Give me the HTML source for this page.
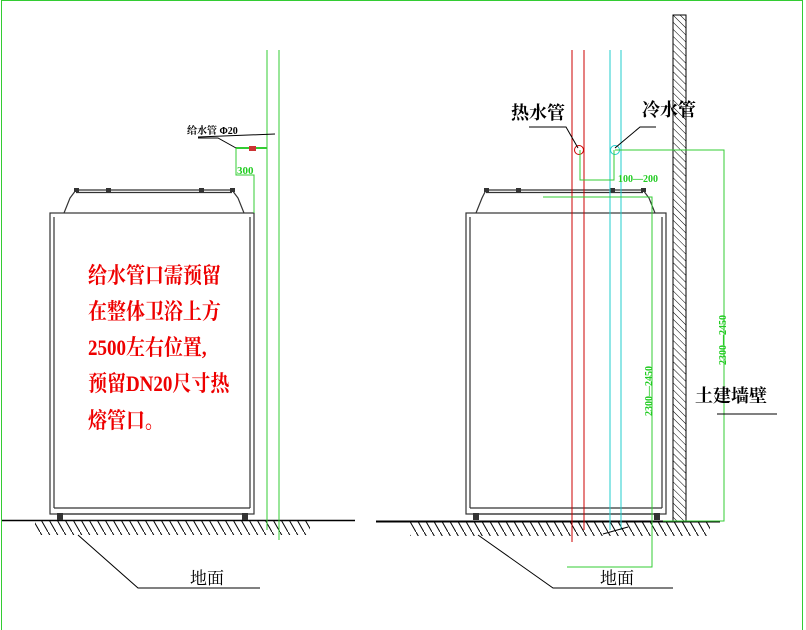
<!DOCTYPE html>
<html><head><meta charset="utf-8"><style>
html,body{margin:0;padding:0;background:#fff;}
svg{display:block;}
text{font-family:"Liberation Serif","Noto Serif CJK SC",serif;}
</style></head><body>
<svg width="806" height="630" viewBox="0 0 806 630" xmlns="http://www.w3.org/2000/svg">
<defs>
<pattern id="h" width="5" height="5" patternUnits="userSpaceOnUse" patternTransform="rotate(-45)">
<line x1="0" y1="0" x2="0" y2="5" stroke="#000" stroke-width="1"/></pattern>
<pattern id="g" width="8" height="14" patternUnits="userSpaceOnUse">
<line x1="0" y1="0" x2="8" y2="14" stroke="#000" stroke-width="1"/></pattern>
</defs>
<rect x="1.5" y="0.5" width="801" height="640" fill="none" stroke="#3c3" stroke-width="1"/>

<!-- LEFT -->
<line x1="2" y1="520.5" x2="355" y2="520.5" stroke="#000" stroke-width="1.5"/>
<rect x="35" y="521" width="275" height="14" fill="url(#g)"/>
<polyline points="78,535 138,588 260,588" fill="none" stroke="#000"/>
<text x="190" y="584" font-size="17">地面</text>
<g fill="none" stroke="#333" stroke-width="1.2">
<rect x="50" y="213" width="204" height="301"/>
<line x1="54" y1="217" x2="54" y2="508"/><line x1="250" y1="217" x2="250" y2="508"/>
<line x1="54" y1="508" x2="250" y2="508"/>
<line x1="58" y1="514" x2="246" y2="514"/>
<polyline points="64,213 70,198 76,190 232,190 238,198 244,213"/>
<line x1="76" y1="192.5" x2="232" y2="192.5"/>
</g>
<rect x="57" y="513" width="6" height="7" fill="#333"/><rect x="242" y="513" width="6" height="7" fill="#333"/>
<g fill="#333"><rect x="74" y="188" width="5" height="4"/><rect x="106" y="188" width="5" height="4"/><rect x="199" y="188" width="5" height="4"/><rect x="230" y="188" width="5" height="4"/></g>
<g stroke="#3c3" fill="none">
<line x1="267" y1="50" x2="267" y2="530"/><line x1="279" y1="50" x2="279" y2="540"/>
<line x1="236" y1="148" x2="267" y2="148" stroke-width="2"/>
<polyline points="236,148 236,175 254,175 254,213"/>
</g>
<rect x="249" y="146" width="7" height="5" fill="#c33"/>
<text x="237" y="174" font-size="11" fill="#2c2" font-weight="bold">300</text>
<line x1="198" y1="137" x2="275" y2="134" stroke="#000"/>
<polyline points="198,138 218,138 236,148" fill="none" stroke="#000"/>
<text x="187" y="134" font-size="10" font-weight="bold">给水管 Φ20</text>
<g fill="#e00" font-size="19" font-weight="bold">
<text transform="translate(88,283) scale(1,1.18)">给水管口需预留</text>
<text transform="translate(88,319) scale(1,1.18)">在整体卫浴上方</text>
<text transform="translate(88,355) scale(1,1.18)">2500左右位置,</text>
<text transform="translate(88,391) scale(1,1.18)">预留DN20尺寸热</text>
<text transform="translate(88,428) scale(1,1.18)">熔管口。</text>
</g>

<!-- RIGHT -->
<line x1="376" y1="521.5" x2="720" y2="521.5" stroke="#000" stroke-width="2"/>
<rect x="410" y="522" width="300" height="14" fill="url(#g)"/>
<polyline points="478,535 553,588 673,588" fill="none" stroke="#000"/>
<text x="600" y="584" font-size="17">地面</text>
<rect x="673" y="15" width="13" height="506" fill="url(#h)" stroke="#000"/>
<g fill="none" stroke="#333" stroke-width="1.2">
<rect x="466" y="213" width="200" height="301"/>
<line x1="470" y1="217" x2="470" y2="508"/><line x1="662" y1="217" x2="662" y2="508"/>
<line x1="470" y1="508" x2="662" y2="508"/>
<line x1="474" y1="514" x2="658" y2="514"/>
<polyline points="476,213 482,198 486,190 643,190 649,198 655,213"/>
<line x1="486" y1="192.5" x2="643" y2="192.5"/>
</g>
<rect x="473" y="513" width="6" height="7" fill="#333"/><rect x="654" y="513" width="6" height="7" fill="#333"/>
<g fill="#333"><rect x="484" y="188" width="5" height="4"/><rect x="516" y="188" width="5" height="4"/><rect x="610" y="188" width="5" height="4"/><rect x="641" y="188" width="5" height="4"/></g>
<g stroke="#c00"><line x1="572" y1="50" x2="572" y2="542"/><line x1="584" y1="50" x2="584" y2="530"/></g>
<g stroke="#2cc"><line x1="610" y1="50" x2="610" y2="530"/><line x1="621" y1="50" x2="621" y2="530"/></g>
<line x1="603" y1="534" x2="628" y2="527" stroke="#000"/>
<circle cx="579" cy="150" r="4.5" fill="none" stroke="#c00"/>
<circle cx="615" cy="150" r="4.5" fill="none" stroke="#2cc"/>
<g stroke="#3c3" fill="none">
<polyline points="580,150 580,180 614,180 614,150"/>
<polyline points="615,150 724,150 724,521 663,521"/>
<polyline points="543,197 652,197 652,567 567,567"/>
</g>
<text x="618" y="182" font-size="10" fill="#2c2" font-weight="bold">100—200</text>
<text transform="translate(652,416) rotate(-90)" font-size="10" fill="#2c2" font-weight="bold">2300—2450</text>
<text transform="translate(726,365) rotate(-90)" font-size="10" fill="#2c2" font-weight="bold">2300—2450</text>
<polyline points="529,127 566,127 578,148" fill="none" stroke="#000"/>
<polyline points="656,127 640,127 615,148" fill="none" stroke="#000"/>
<text x="511" y="119" font-size="18" font-weight="bold">热水管</text>
<text x="642" y="116" font-size="18" font-weight="bold">冷水管</text>
<text x="695" y="402" font-size="18" font-weight="bold">土建墙壁</text>
<line x1="717" y1="414" x2="777" y2="414" stroke="#000"/>
</svg>
</body></html>
